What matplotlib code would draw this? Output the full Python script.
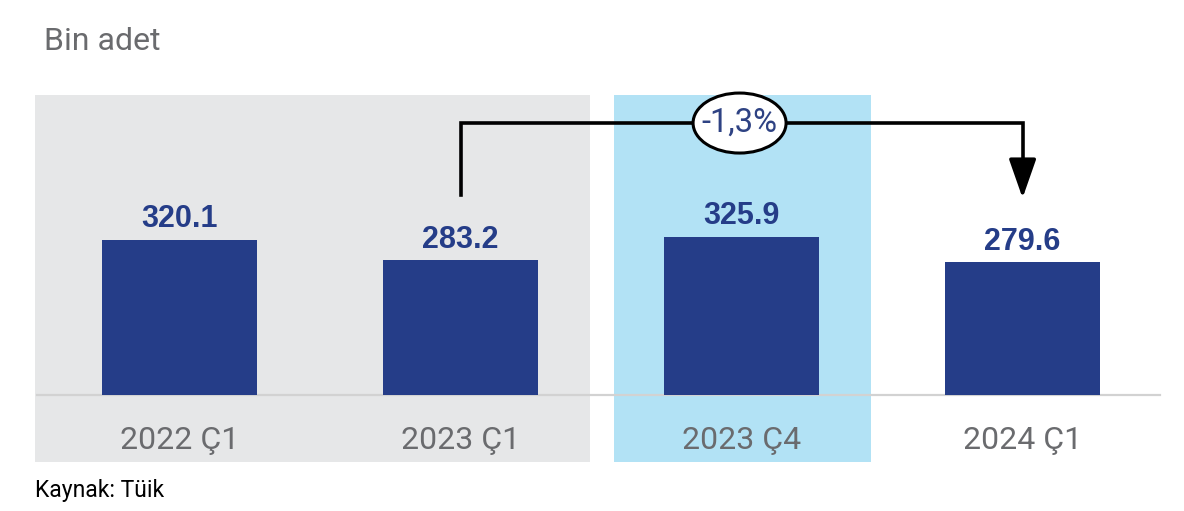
import matplotlib
matplotlib.use("Agg")
import matplotlib.pyplot as plt
from matplotlib.patches import Ellipse

# ---- data ----
categories = ["2022 Ç1", "2023 Ç1", "2023 Ç4", "2024 Ç1"]
values = [320.1, 283.2, 325.9, 279.6]
change_label = "-1,3%"
unit_label = "Bin adet"
source_label = "Kaynak: Tüik"

# ---- style ----
BAR_COLOR = "#253d88"
GRAY_BG = "#e6e7e8"
BLUE_BG = "#b2e2f5"
TEXT_GRAY = "#6a6b6e"
AXIS_BASE = 39  # value at baseline of the axis (axis not starting at zero)

fig = plt.figure(figsize=(11.84, 5.11), dpi=100)
fig.patch.set_facecolor("white")
ax = fig.add_axes([37/1184, 116/511, 1123/1184, 300/511])
ax.set_facecolor("none")

x = list(range(len(categories)))
ax.bar(x, values, width=0.553, color=BAR_COLOR, zorder=3)
ax.set_xlim(-0.507, 3.489)
ax.set_ylim(AXIS_BASE, AXIS_BASE + 544.5)

# background bands
ax.axvspan(-0.514, 1.461, ymin=-0.223, ymax=1.0, color=GRAY_BG, zorder=0, clip_on=False, lw=0)
ax.axvspan(1.546, 2.460, ymin=-0.223, ymax=1.0, color=BLUE_BG, zorder=0, clip_on=False, lw=0)

# spines
for s in ["top", "right", "left"]:
    ax.spines[s].set_visible(False)
ax.spines["bottom"].set_color("#d2d2d2")
ax.spines["bottom"].set_linewidth(1.6)
ax.spines["bottom"].set_zorder(2)
ax.set_yticks([])
ax.set_xticks(x)
ax.set_xticklabels(categories, fontsize=23, color=TEXT_GRAY, family="Roboto", fontweight="normal")
ax.tick_params(axis="x", length=0, pad=22)

# value labels
for xi, v in zip(x, values):
    ax.annotate(f"{v:.1f}", (xi, v), xytext=(0, 9.2), textcoords="offset points",
                ha="center", va="baseline", fontsize=22, fontweight="bold",
                family="Liberation Sans", color=BAR_COLOR, zorder=4)

# connector from bar 2 to bar 4
y_top = 532.6
ax.plot([1, 1, 3, 3], [402, y_top, y_top, 440], color="black", lw=2.6,
        solid_joinstyle="miter", zorder=5, clip_on=False)
ax.annotate("", xy=(3, 396.5), xytext=(3, 450),
            arrowprops=dict(arrowstyle="-|>,head_length=1.2,head_width=0.42",
                            color="black", lw=2.6, shrinkA=0, shrinkB=0,
                            mutation_scale=20), zorder=5)
ell = Ellipse((1.993, y_top), 0.331, 108.9, facecolor="white", edgecolor="black",
              lw=2.2, zorder=6, clip_on=False)
ax.add_patch(ell)
ax.text(1.993, y_top, change_label, ha="center", va="center", fontsize=23.5,
        family="Roboto", fontweight="normal", color="#2e4283", zorder=7)

# titles
fig.text(44/1184, 1 - 42/511, unit_label, ha="left", va="center", fontsize=23,
         family="Roboto", fontweight="normal", color=TEXT_GRAY)
fig.text(35/1184, 1 - 490/511, source_label, ha="left", va="center", fontsize=16.5,
         family="Roboto", color="black")

fig.savefig("out.png", dpi=100)
